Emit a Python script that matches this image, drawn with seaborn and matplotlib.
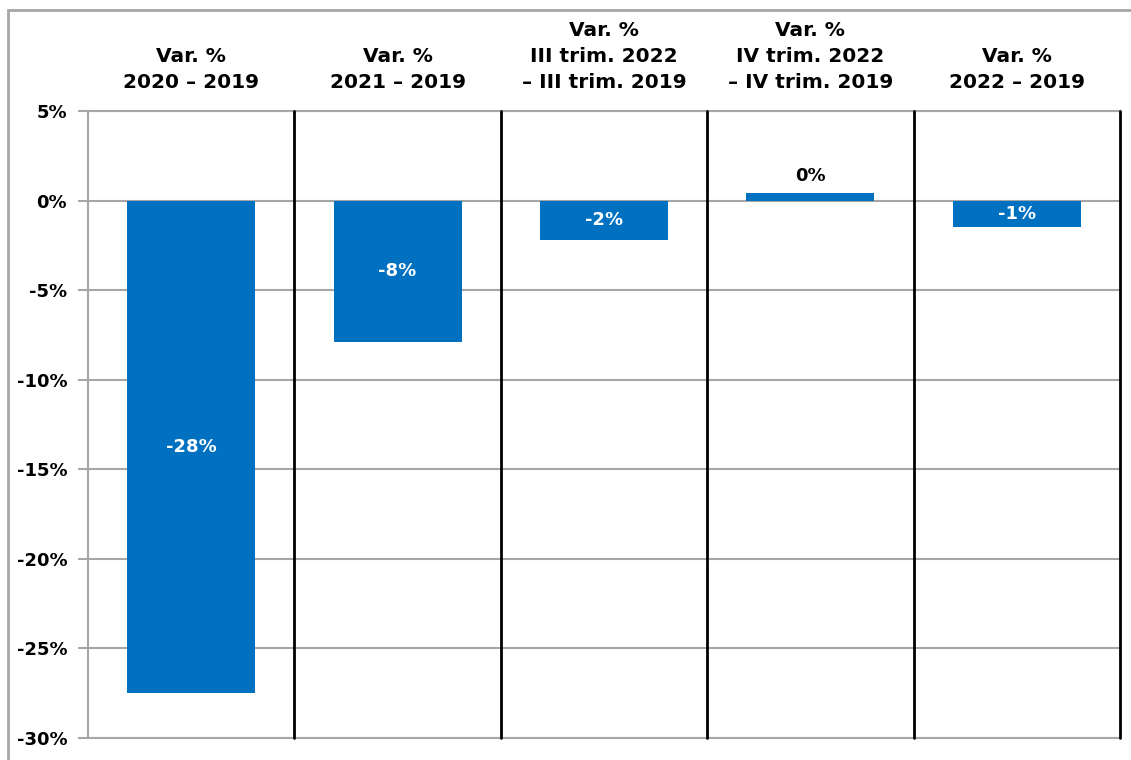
import numpy as np
import pandas as pd
import seaborn as sns
import matplotlib.pyplot as plt
from matplotlib.patches import Rectangle
from matplotlib.ticker import MultipleLocator, FuncFormatter

# Data
categories = [
    "Var. %\n2020 \u2013 2019",
    "Var. %\n2021 \u2013 2019",
    "Var. %\nIII trim. 2022\n\u2013 III trim. 2019",
    "Var. %\nIV trim. 2022\n\u2013 IV trim. 2019",
    "Var. %\n2022 \u2013 2019",
]
values = [-27.5, -7.9, -2.2, 0.4, -1.45]

df = pd.DataFrame({"cat": categories, "val": values})

sns.set_style("white")
plt.rcParams["font.family"] = ["DejaVu Sans"]
plt.rcParams["font.weight"] = "bold"
plt.rcParams["text.color"] = "black"
plt.rcParams["xtick.color"] = "black"
plt.rcParams["ytick.color"] = "black"

fig = plt.figure(figsize=(11.31, 7.6), dpi=100)
ax = fig.add_axes([88 / 1131, 22 / 760, (1120 - 88) / 1131, (738 - 111) / 760])

sns.barplot(data=df, x="cat", y="val", color="#0070C0", width=0.62,
            saturation=1, linewidth=0, ax=ax, zorder=3)

ax.set_ylim(-30, 5)
ax.set_xlim(-0.5, len(categories) - 0.5)
ax.set_xlabel("")
ax.set_ylabel("")

# horizontal gridlines
ax.yaxis.set_major_locator(MultipleLocator(5))
ax.yaxis.set_major_formatter(FuncFormatter(lambda v, p: f"{v:.0f}%"))
ax.grid(axis="y", color="#A6A6A6", linewidth=1.5, zorder=0)
ax.tick_params(axis="y", left=True, length=7, width=1.5, color="#A6A6A6",
               labelcolor="black", labelsize=13, pad=8)

# category labels on top
ax.xaxis.set_ticks_position("top")
ax.tick_params(axis="x", length=0, labelsize=14.5, pad=14, labelcolor="black")
for lab in ax.get_xticklabels():
    lab.set_fontweight("bold")
    lab.set_linespacing(1.45)
for lab in ax.get_yticklabels():
    lab.set_fontweight("bold")

# vertical separators between categories
for i in range(1, len(categories) + 1):
    ax.axvline(i - 0.5, color="black", linewidth=2, zorder=4, clip_on=False)

for side in ["top", "bottom", "left"]:
    ax.spines[side].set_color("#A6A6A6")
    ax.spines[side].set_linewidth(1.5)
ax.spines["right"].set_visible(False)

# data labels
for bar, v in zip(ax.patches, values):
    cx = bar.get_x() + bar.get_width() / 2
    txt = f"{v:.0f}%"
    if v < 0:
        ax.text(cx, v / 2, txt, ha="center", va="center", color="white",
                fontsize=13, fontweight="bold", zorder=5)
    else:
        ax.annotate(txt, (cx, v), xytext=(0, 6), textcoords="offset points",
                    ha="center", va="bottom", color="black",
                    fontsize=13, fontweight="bold", zorder=5)

# outer chart border
fig.patches.append(Rectangle((8 / 1131, -0.1), 1.2, 1.1 - 10 / 760,
                             transform=fig.transFigure, fill=False,
                             edgecolor="#A6A6A6", linewidth=2))

fig.savefig("out.png", dpi=100)
